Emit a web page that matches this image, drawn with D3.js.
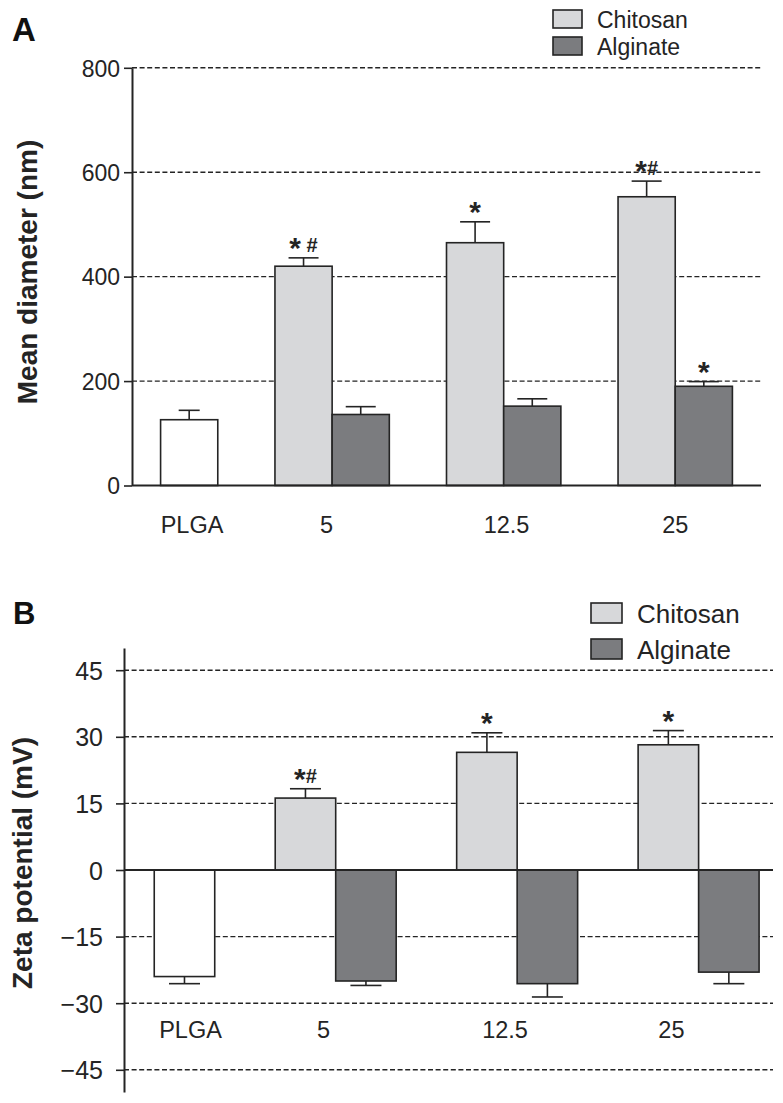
<!DOCTYPE html>
<html>
<head>
<meta charset="utf-8">
<script src="https://cdn.jsdelivr.net/npm/d3@7"></script>
<style>
  body { margin: 0; background: #fff; }
  svg { display: block; font-family: "Liberation Sans", Arial, Helvetica, sans-serif; }
</style>
</head>
<body>
<svg id="chart" width="783" height="1103"></svg>
<script>
// ---- data ----
const groups = ["PLGA", "5", "12.5", "25"];
const seriesNames = ["Chitosan", "Alginate"];

// A: mean diameter (nm)
const diameterPLGA = [126];
const diameterPLGAErr = [18];
const diameterChitosan = [420, 465, 553];
const diameterChitosanErr = [16, 40, 30];
const diameterAlginate = [136, 152, 190];
const diameterAlginateErr = [15, 14, 9];
const diameterTicks = [0, 200, 400, 600, 800];
const diameterSigChitosan = ["* #", "*", "*#"];
const diameterSigAlginate = ["", "", "*"];

// B: zeta potential (mV)
const zetaPLGA = [-24];
const zetaPLGAErr = [1.6];
const zetaChitosan = [16.2, 26.5, 28.2];
const zetaChitosanErr = [2.1, 4.4, 3.2];
const zetaAlginate = [-25, -25.6, -23];
const zetaAlginateErr = [1, 3, 2.6];
const zetaTicks = [-45, -30, -15, 0, 15, 30, 45];
const zetaSigChitosan = ["*#", "*", "*"];
const zetaSigAlginate = ["", "", ""];

const fills = { PLGA: "#ffffff", Chitosan: "#d7d8da", Alginate: "#7b7c7f" };
const ink = "#242424";

const svg = d3.select("#chart");

// star and hash drawn at the same height, as in the figure
function sigMark(g, x, y, str) {
    const t = g.append("text")
        .attr("x", x).attr("y", y)
        .attr("text-anchor", "middle")
        .attr("font-weight", "bold")
        .attr("fill", ink)
        .style("white-space", "pre");
    let shift = 0;
    for (const ch of str) {
        const want = ch === "*" ? 10 : (ch === "#" ? 4 : shift);
        t.append("tspan")
            .attr("dy", want - shift)
            .attr("font-size", ch === "*" ? 30 : 20)
            .text(ch);
        shift = want;
    }
}

function drawPanel(p) {
    const g = svg.append("g");
    const x = d3.scaleLinear().domain(p.xDomain).range(p.xRange);
    const y = d3.scaleLinear().domain(p.yDomain).range(p.yRange);

    // dashed grid lines (not at zero)
    g.append("g").selectAll("line")
        .data(p.ticks.filter(t => t !== 0))
        .join("line")
        .attr("x1", p.xRange[0]).attr("x2", p.xRange[1])
        .attr("y1", d => y(d)).attr("y2", d => y(d))
        .attr("stroke", ink).attr("stroke-width", 1.4)
        .attr("stroke-dasharray", "5,2.6");

    // bars: PLGA in slot 0, chitosan/alginate in slots 2/3, 5/6, 8/9
    const bars = [{ slot: 0, v: p.plga[0], e: p.plgaErr[0], fill: fills.PLGA, sig: "", cap: p.plgaCapW }];
    p.chit.forEach((v, i) => {
        bars.push({ slot: 3 * i + 2, v, e: p.chitErr[i], fill: fills.Chitosan, sig: p.sigChit[i], cap: p.capW });
        bars.push({ slot: 3 * i + 3, v: p.alg[i], e: p.algErr[i], fill: fills.Alginate, sig: p.sigAlg[i], cap: p.capW });
    });

    const y0 = y(0);
    const barG = g.append("g");
    bars.forEach(b => {
        const x0 = x(b.slot), x1 = x(b.slot + 1), cx = (x0 + x1) / 2;
        const yv = y(b.v);
        const end = b.v + Math.sign(b.v) * b.e;
        const ye = y(end);
        barG.append("line")
            .attr("x1", cx).attr("x2", cx).attr("y1", yv).attr("y2", ye)
            .attr("stroke", ink).attr("stroke-width", 1.6);
        barG.append("line")
            .attr("x1", cx - b.cap / 2).attr("x2", cx + b.cap / 2)
            .attr("y1", ye).attr("y2", ye)
            .attr("stroke", ink).attr("stroke-width", 1.6);
        barG.append("rect")
            .attr("x", x0).attr("width", x1 - x0)
            .attr("y", Math.min(yv, y0)).attr("height", Math.abs(y0 - yv))
            .attr("fill", b.fill).attr("stroke", ink).attr("stroke-width", 1.6);
        if (b.sig) sigMark(g, cx, ye - 10, b.sig);
    });

    // zero line
    g.append("line")
        .attr("x1", p.xRange[0]).attr("x2", p.xRange[1])
        .attr("y1", y0).attr("y2", y0)
        .attr("stroke", ink).attr("stroke-width", 2);

    // y axis
    const axis = g.append("g")
        .attr("transform", `translate(${p.xRange[0]},0)`)
        .call(d3.axisLeft(y).tickValues(p.ticks).tickSize(8).tickSizeOuter(0).tickPadding(p.tickPad));
    axis.select(".domain").attr("stroke", ink).attr("stroke-width", 2);
    axis.selectAll(".tick line").attr("stroke", ink).attr("stroke-width", 1.6);
    axis.selectAll(".tick text")
        .attr("font-family", "\"Liberation Sans\", Arial, sans-serif")
        .attr("font-size", p.tickFont).attr("fill", ink).attr("dy", "0.36em");

    // category labels
    g.append("g").selectAll("text")
        .data(groups)
        .join("text")
        .attr("x", (d, i) => x(p.catSlots[i]))
        .attr("y", p.catY)
        .attr("text-anchor", "middle")
        .attr("font-size", p.catFont)
        .attr("fill", ink)
        .text(d => d);

    // y title
    g.append("text")
        .attr("transform", `translate(${p.title.x},${p.title.y}) rotate(-90)`)
        .attr("text-anchor", "middle")
        .attr("font-size", 28).attr("font-weight", "bold").attr("fill", ink)
        .text(p.title.text);

    // panel letter
    g.append("text")
        .attr("x", p.letter.x).attr("y", p.letter.y)
        .attr("font-size", p.letter.size).attr("font-weight", "bold").attr("fill", "#111")
        .text(p.letter.text);

    // legend
    const L = p.legend;
    const leg = g.append("g").selectAll("g")
        .data(seriesNames)
        .join("g")
        .attr("transform", (d, i) => `translate(${L.x},${L.y + i * L.gap})`);
    leg.append("rect")
        .attr("width", L.w).attr("height", L.h)
        .attr("fill", d => fills[d]).attr("stroke", ink).attr("stroke-width", 1.6);
    leg.append("text")
        .attr("x", L.textDx).attr("y", L.h)
        .attr("font-size", L.font).attr("fill", ink)
        .text(d => d);
}

drawPanel({
    xDomain: [-0.5, 10.5], xRange: [132, 761],
    yDomain: [0, 800], yRange: [485.5, 67.8],
    ticks: diameterTicks, tickFont: 23, tickPad: 4,
    plga: diameterPLGA, plgaErr: diameterPLGAErr,
    chit: diameterChitosan, chitErr: diameterChitosanErr,
    alg: diameterAlginate, algErr: diameterAlginateErr,
    sigChit: diameterSigChitosan, sigAlg: diameterSigAlginate,
    capW: 30, plgaCapW: 21,
    catSlots: [0.55, 2.9, 6.05, 9.0], catY: 533, catFont: 23.5,
    title: { text: "Mean diameter (nm)", x: 37, y: 272 },
    letter: { text: "A", x: 12, y: 41, size: 33 },
    legend: { x: 553, y: 10, w: 29, h: 18, gap: 27, font: 23, textDx: 44 }
});

drawPanel({
    xDomain: [-0.5, 10.23], xRange: [124, 773],
    yDomain: [-50, 50], yRange: [1092, 648],
    ticks: zetaTicks, tickFont: 25, tickPad: 13,
    plga: zetaPLGA, plgaErr: zetaPLGAErr,
    chit: zetaChitosan, chitErr: zetaChitosanErr,
    alg: zetaAlginate, algErr: zetaAlginateErr,
    sigChit: zetaSigChitosan, sigAlg: zetaSigAlginate,
    capW: 31, plgaCapW: 31,
    catSlots: [0.6, 2.8, 5.8, 8.55], catY: 1038, catFont: 23.5,
    title: { text: "Zeta potential (mV)", x: 32, y: 863 },
    letter: { text: "B", x: 13, y: 624, size: 31 },
    legend: { x: 591, y: 603, w: 31, h: 20, gap: 36, font: 26, textDx: 46 }
});
</script>
</body>
</html>
